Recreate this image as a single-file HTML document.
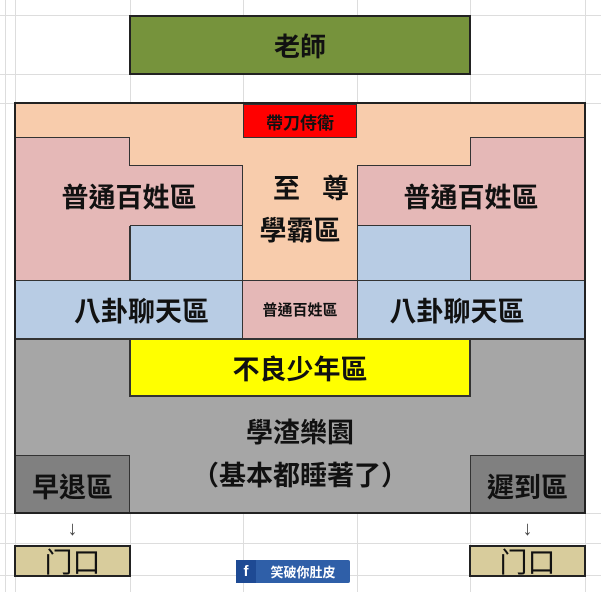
<!DOCTYPE html>
<html><head><meta charset="utf-8"><style>
body{margin:0;width:601px;height:592px;overflow:hidden;background:#fff;position:relative;font-family:"Liberation Sans","Noto Sans CJK TC",sans-serif;font-weight:bold;}
.a{position:absolute;box-sizing:border-box;}
.t{position:absolute;display:flex;align-items:center;justify-content:center;color:#111;font-weight:bold;}
.gv{position:absolute;top:0;width:1px;height:592px;background:#ddd;}
.gh{position:absolute;left:0;height:1px;width:601px;background:#ddd;}
</style></head><body>
<div class="gv" style="left:5px"></div><div class="gv" style="left:15px"></div><div class="gv" style="left:130px"></div><div class="gv" style="left:243px"></div><div class="gv" style="left:357px"></div><div class="gv" style="left:470px"></div><div class="gv" style="left:585px"></div>
<div class="gh" style="top:15px"></div><div class="gh" style="top:74px"></div><div class="gh" style="top:103px"></div><div class="gh" style="top:513px"></div><div class="gh" style="top:543px"></div><div class="gh" style="top:575px"></div>

<div class="a" style="left:129px;top:15px;width:342px;height:60px;background:#76933c;border:2px solid #222"></div>
<div class="t" style="left:129px;top:15px;width:342px;height:60px;font-size:26px">老師</div>

<div class="a" style="left:15px;top:103px;width:570px;height:410px;background:#f8ccac"></div>
<div class="a" style="left:15px;top:137px;width:115px;height:143px;background:#e5b8b7;border-top:1px solid #333;border-right:1px solid #333"></div>
<div class="a" style="left:129px;top:165px;width:114px;height:61px;background:#e5b8b7;border-top:1px solid #333"></div>
<div class="a" style="left:130px;top:225px;width:113px;height:56px;background:#b8cce4;border-top:1px solid #333;border-left:1px solid #333"></div>
<div class="a" style="left:15px;top:280px;width:228px;height:58px;background:#b8cce4;border-top:1px solid #333"></div>
<div class="a" style="left:242px;top:165px;width:1px;height:173px;background:#333"></div>
<div class="a" style="left:470px;top:137px;width:115px;height:143px;background:#e5b8b7;border-top:1px solid #333;border-left:1px solid #333"></div>
<div class="a" style="left:357px;top:165px;width:114px;height:61px;background:#e5b8b7;border-top:1px solid #333"></div>
<div class="a" style="left:357px;top:225px;width:114px;height:56px;background:#b8cce4;border-top:1px solid #333;border-right:1px solid #333"></div>
<div class="a" style="left:357px;top:280px;width:228px;height:58px;background:#b8cce4;border-top:1px solid #333"></div>
<div class="a" style="left:357px;top:165px;width:1px;height:173px;background:#333"></div>
<div class="a" style="left:243px;top:280px;width:114px;height:58px;background:#e5b8b7;border-top:1px solid #333"></div>
<div class="a" style="left:243px;top:104px;width:114px;height:34px;background:#f00;border:1px solid #333"></div>
<div class="t" style="left:243px;top:104px;width:114px;height:34px;font-size:17px">帶刀侍衛</div>
<div class="a" style="left:15px;top:338px;width:570px;height:175px;background:#a6a6a6;border-top:2px solid #333"></div>
<div class="a" style="left:129px;top:338px;width:342px;height:59px;background:#ff0;border:2px solid #333"></div>
<div class="a" style="left:15px;top:455px;width:115px;height:58px;background:#808080;border-top:1px solid #333;border-right:1px solid #333"></div>
<div class="a" style="left:470px;top:455px;width:115px;height:58px;background:#808080;border-top:1px solid #333;border-left:1px solid #333"></div>
<div class="a" style="left:14px;top:102px;width:572px;height:412px;border:2px solid #222"></div>

<div class="t" style="left:15px;top:165px;width:228px;height:60px;font-size:27px">普通百姓區</div>
<div class="t" style="left:357px;top:165px;width:228px;height:60px;font-size:27px">普通百姓區</div>
<div class="t" style="left:243px;top:170px;width:114px;height:32px;font-size:27px;letter-spacing:22px;padding-left:22px">至尊</div>
<div class="t" style="left:243px;top:211px;width:114px;height:34px;font-size:27px">學霸區</div>
<div class="t" style="left:40px;top:280px;width:203px;height:58px;font-size:27px">八卦聊天區</div>
<div class="t" style="left:357px;top:280px;width:200px;height:58px;font-size:27px">八卦聊天區</div>
<div class="t" style="left:243px;top:280px;width:114px;height:58px;font-size:15px">普通百姓區</div>
<div class="t" style="left:130px;top:338px;width:340px;height:59px;font-size:27px">不良少年區</div>
<div class="t" style="left:130px;top:412px;width:340px;height:36px;font-size:27px">學渣樂園</div>
<div class="t" style="left:130px;top:453px;width:340px;height:40px;font-size:27px">（基本都睡著了）</div>
<div class="t" style="left:15px;top:458px;width:115px;height:55px;font-size:27px">早退區</div>
<div class="t" style="left:470px;top:458px;width:115px;height:55px;font-size:27px">遲到區</div>

<div class="t" style="left:15px;top:515px;width:115px;height:28px;font-size:20px;font-weight:normal;color:#444">↓</div>
<div class="t" style="left:470px;top:515px;width:115px;height:28px;font-size:20px;font-weight:normal;color:#444">↓</div>
<div class="a" style="left:14px;top:545px;width:117px;height:32px;background:#d8cc9c;border:2px solid #222"></div>
<div class="t" style="left:14px;top:545px;width:117px;height:32px;font-size:28px;font-weight:normal">门口</div>
<div class="a" style="left:469px;top:545px;width:117px;height:32px;background:#d8cc9c;border:2px solid #222"></div>
<div class="t" style="left:469px;top:545px;width:117px;height:32px;font-size:28px;font-weight:normal">门口</div>

<div class="a" style="left:236px;top:560px;width:114px;height:23px;background:#2f5fa8;border-radius:2px"></div>
<div class="a" style="left:236px;top:560px;width:20px;height:23px;background:#1e4a94"></div>
<div class="t" style="left:236px;top:560px;width:20px;height:23px;font-size:15px;color:#fff">f</div>
<div class="t" style="left:256px;top:560px;width:94px;height:23px;font-size:13px;color:#fff">笑破你肚皮</div>
</body></html>
